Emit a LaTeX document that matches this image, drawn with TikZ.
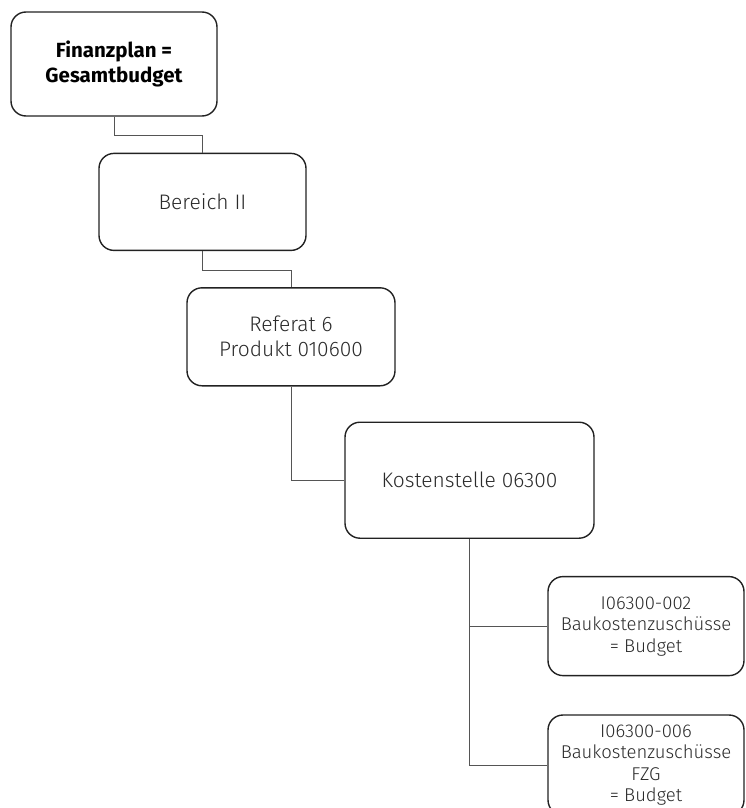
\documentclass[tikz,border=0pt]{standalone}
\usepackage{fontspec}
\setmainfont{Fira Sans Light}[BoldFont={Fira Sans Bold}]
\usetikzlibrary{positioning}

\definecolor{boxline}{HTML}{222222}
\definecolor{linkline}{HTML}{555555}
\definecolor{boxtext}{HTML}{2A2A2A}

\begin{document}
\begin{tikzpicture}[
      font=\fontsize{21}{25}\selectfont,
      box/.style={rectangle, draw=boxline, line width=1.4pt, rounded corners=15pt, text centered, align=center, text=boxtext, inner sep=0pt},
      smallbox/.style={box, font=\fontsize{18.5}{21.5}\selectfont, minimum width=196pt, minimum height=99pt},
      link/.style={draw=linkline, line width=0.9pt}
    ]
      \clip (0,0) rectangle (745pt,-808pt);

      \node (fin) [box, text=black, font=\fontsize{20.5}{25}\selectfont\bfseries, minimum width=206pt, minimum height=104pt] at (114pt,-64pt) {Finanzplan =\\Gesamtbudget};
      \node (ber) [box, minimum width=207pt, minimum height=97pt, below=36pt of fin.south, xshift=88.5pt] {Bereich II};
      \node (ref) [box, minimum width=208pt, minimum height=98pt, below=36pt of ber.south, xshift=88.5pt] {Referat 6\\Produkt 010600};
      \node (kst) [box, minimum width=249pt, minimum height=116pt, below=35pt of ref.south, xshift=178.5pt] {Kostenstelle 06300};
      \node (bk1) [smallbox, below=37pt of kst.south, xshift=176.5pt] {I06300-002\\Baukostenzuschüsse\\= Budget};
      \node (bk2) [smallbox, minimum height=100pt, below=38pt of bk1.south] {I06300-006\\Baukostenzuschüsse\\FZG\\= Budget};

      \draw [link] (fin.south) -- ++(0,-19pt) -| (ber.north);
      \draw [link] (ber.south) -- ++(0,-19pt) -| (ref.north);
      \draw [link] (ref.south) |- (kst.west);
      \draw [link] (kst.south) |- (bk1.west);
      \draw [link] (kst.south) |- (bk2.west);
    \end{tikzpicture}
\end{document}
